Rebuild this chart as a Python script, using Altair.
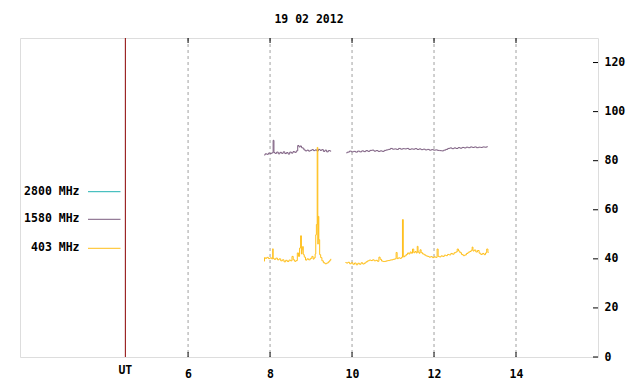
import altair as alt
import pandas as pd

# ---------------- data ----------------
series_names = ["2800 MHz", "1580 MHz", "403 MHz"]
series_colors = ["#20b2b2", "#7b5c7f", "#ffbf1a"]

x_ticks = [6, 8, 10, 12, 14]
y_ticks = [0, 20, 40, 60, 80, 100, 120]
ut_pos = [4.47]
title_text = "19 02 2012"

# 1580 MHz, first segment
t1580_a = [7.86, 7.90, 7.94, 7.98, 8.02, 8.06, 8.09, 8.10, 8.14, 8.18, 8.22, 8.26, 8.30, 8.34,
           8.38, 8.42, 8.46, 8.50, 8.54, 8.58, 8.62, 8.66, 8.69, 8.72, 8.75, 8.78, 8.81, 8.84,
           8.88, 8.92, 8.96, 9.00, 9.04, 9.08, 9.12, 9.16, 9.20, 9.24, 9.28, 9.32, 9.36, 9.40,
           9.44, 9.49]
v1580_a = [82.3, 82.8, 82.6, 83.1, 82.9, 83.2, 88.3, 83.3, 83.0, 83.5, 82.8, 83.4, 83.0, 83.6,
           82.9, 83.3, 82.7, 83.5, 83.1, 83.7, 83.4, 84.0, 86.2, 85.6, 86.0, 85.3, 85.1, 84.4,
           84.0, 84.3, 83.9, 84.2, 84.5, 84.1, 84.4, 84.0, 84.6, 84.2, 84.5, 83.8, 84.3, 83.6,
           84.1, 83.9]
# 1580 MHz, second segment
t1580_b = [9.86, 9.91, 9.96, 10.01, 10.06, 10.11, 10.16, 10.21, 10.26, 10.31, 10.36, 10.41,
           10.46, 10.51, 10.56, 10.61, 10.66, 10.71, 10.76, 10.81, 10.86, 10.91, 10.96, 11.01,
           11.06, 11.11, 11.16, 11.21, 11.26, 11.31, 11.36, 11.41, 11.46, 11.51, 11.56, 11.61,
           11.66, 11.71, 11.76, 11.81, 11.86, 11.91, 11.96, 12.01, 12.06, 12.11, 12.16, 12.21,
           12.26, 12.31, 12.36, 12.41, 12.46, 12.51, 12.56, 12.61, 12.66, 12.71, 12.76, 12.81,
           12.86, 12.91, 12.96, 13.01, 13.06, 13.11, 13.16, 13.21, 13.26, 13.31]
v1580_b = [83.2, 83.5, 83.9, 83.6, 83.8, 83.5, 83.9, 83.6, 84.0, 83.7, 84.1, 83.8,
           84.2, 84.3, 83.9, 84.1, 83.8, 84.0, 83.8, 84.2, 84.4, 84.6, 85.0, 84.7,
           84.8, 84.6, 85.0, 84.7, 84.9, 84.8, 85.0, 84.6, 84.8, 84.7, 84.9, 84.6,
           84.8, 84.5, 84.7, 84.4, 84.6, 84.3, 84.5, 84.3, 84.4, 84.2, 84.1, 84.0,
           84.3, 84.6, 85.0, 85.2, 84.9, 85.2, 85.0, 85.3, 85.1, 85.4, 85.2, 85.5,
           85.3, 85.6, 85.4, 85.6, 85.3, 85.5, 85.4, 85.6, 85.5, 85.7]

# 403 MHz, first segment
t403_a = [7.86, 7.87, 7.90, 7.94, 7.98, 8.02, 8.06, 8.07, 8.08, 8.12, 8.16, 8.20, 8.24, 8.28,
          8.32, 8.36, 8.40, 8.44, 8.48, 8.52, 8.55, 8.58, 8.62, 8.65, 8.68, 8.71, 8.73, 8.76,
          8.77, 8.79, 8.80, 8.82, 8.85, 8.88, 8.92, 8.96, 9.00, 9.04, 9.06, 9.09, 9.11, 9.12,
          9.14, 9.16, 9.17, 9.18, 9.20, 9.22, 9.25, 9.28, 9.32, 9.36, 9.40, 9.44, 9.47, 9.49]
v403_a = [39.0, 40.5, 40.2, 40.6, 40.1, 40.4, 40.0, 44.1, 40.2, 39.8, 40.3, 39.6, 40.0, 39.2,
          39.6, 38.8, 39.4, 38.9, 39.5, 39.2, 41.0, 39.6, 39.0, 39.3, 42.4, 41.0, 44.4, 49.4,
          42.0, 43.7, 45.0, 41.7, 40.7, 39.5, 40.0, 39.6, 40.2, 41.0, 39.9, 40.4, 42.0, 49.8,
          54.0, 85.4, 46.0, 57.3, 47.8, 41.7, 40.5, 39.2, 38.4, 38.0, 38.3, 38.8, 39.4, 39.9]
# 403 MHz, second segment
t403_b = [9.84, 9.88, 9.92, 9.96, 10.00, 10.04, 10.08, 10.12, 10.16, 10.20, 10.24, 10.28,
          10.32, 10.36, 10.40, 10.44, 10.48, 10.52, 10.56, 10.60, 10.64, 10.67, 10.70, 10.74,
          10.78, 10.82, 10.86, 10.90, 10.94, 10.98, 11.02, 11.06, 11.09, 11.11, 11.15, 11.19,
          11.22, 11.24, 11.26, 11.30, 11.34, 11.37, 11.40, 11.43, 11.46, 11.49, 11.52, 11.55,
          11.58, 11.60, 11.62, 11.65, 11.67, 11.70, 11.74, 11.78, 11.82, 11.86, 11.90, 11.94,
          11.98, 12.02, 12.06, 12.09, 12.11, 12.15, 12.19, 12.23, 12.27, 12.31, 12.35, 12.39,
          12.43, 12.47, 12.51, 12.55, 12.58, 12.61, 12.65, 12.69, 12.73, 12.77, 12.81, 12.85,
          12.89, 12.92, 12.94, 12.96, 13.00, 13.04, 13.08, 13.12, 13.16, 13.20, 13.24, 13.27,
          13.30, 13.33]
v403_b = [38.5, 38.3, 38.6, 38.0, 38.4, 37.8, 38.3, 37.6, 38.2, 37.8, 38.4, 37.9,
          38.3, 38.8, 39.2, 39.5, 39.3, 39.6, 39.2, 39.4, 39.0, 40.7, 39.8, 39.1,
          38.9, 39.0, 39.2, 39.3, 39.5, 39.6, 39.8, 40.0, 42.6, 40.1, 40.4, 40.2,
          40.6, 56.0, 40.8, 41.2, 41.8, 42.4, 42.0, 42.8, 42.3, 44.0, 42.5, 43.0,
          42.4, 45.1, 42.8, 42.3, 43.7, 42.5, 42.0, 41.6, 41.2, 41.0, 40.7, 40.9,
          40.5, 40.8, 40.6, 44.0, 41.0, 40.8, 41.2, 41.0, 41.5, 41.3, 41.8, 41.6,
          42.2, 41.9, 42.5, 42.8, 44.0, 43.2, 42.5, 41.8, 41.3, 41.6, 42.2, 42.7,
          43.0, 43.5, 44.8, 43.2, 43.6, 42.8, 43.4, 42.3, 41.8, 42.2, 41.7, 42.4,
          44.0, 42.6]


def make_df(name, segments):
    rows = []
    for si, (ts, vs) in enumerate(segments):
        for t, v in zip(ts, vs):
            rows.append({"t": t, "v": v, "series": name, "seg": f"{name}-{si}"})
    return pd.DataFrame(rows)


df1580 = make_df("1580 MHz", [(t1580_a, v1580_a), (t1580_b, v1580_b)])
df403 = make_df("403 MHz", [(t403_a, v403_a), (t403_b, v403_b)])

# ---------------- chart ----------------
W, H = 578, 319
FONT = "DejaVu Sans Mono"
FS = 11.5

xs = alt.Scale(domain=[1.9, 16.0], nice=False, zero=False)
ys = alt.Scale(domain=[0, 130], nice=False, zero=False)

X_AXIS = alt.Axis(values=x_ticks, format="d", ticks=False, domain=False, grid=False,
                  labelPadding=11, title=None, labelFont=FONT, labelFontSize=FS,
                  labelFontWeight="bold", labelColor="black")
Y_AXIS = alt.Axis(orient="right", values=y_ticks, format="d", ticks=False, domain=False,
                  grid=False, labelPadding=6, title=None, labelFont=FONT,
                  labelFontSize=FS, labelFontWeight="bold", labelColor="black",
                  labelAlign="left")


def X(field="t:Q"):
    return alt.X(field, scale=xs, axis=X_AXIS)


def Y(field="v:Q"):
    return alt.Y(field, scale=ys, axis=Y_AXIS)


grid = alt.Chart(pd.DataFrame({"t": x_ticks})).mark_rule(
    color="#a0a0a0", strokeWidth=1, strokeDash=[3, 3]
).encode(x=X())

# y axis carrier (invisible points)
yaxis = alt.Chart(pd.DataFrame({"t": [10.0] * len(y_ticks), "v": y_ticks})).mark_point(
    opacity=0).encode(x=X(), y=Y())

xt_df = pd.DataFrame({"t": x_ticks})
xtick_bottom = alt.Chart(xt_df).mark_rule(color="black").encode(
    x=X(), y=alt.value(H), y2=alt.value(H - 5))
xtick_top = alt.Chart(xt_df).mark_rule(color="black").encode(
    x=X(), y=alt.value(0), y2=alt.value(5))
ytick = alt.Chart(pd.DataFrame({"v": y_ticks})).mark_rule(color="black").encode(
    y=Y(), x=alt.value(W - 5), x2=alt.value(W))

ut_df = pd.DataFrame({"t": ut_pos, "label": ["UT"]})
ut_line = alt.Chart(ut_df).mark_rule(color="#8b0000", strokeWidth=1).encode(x=X())
ut_text = alt.Chart(ut_df).mark_text(
    font=FONT, fontSize=FS, fontWeight="bold", color="black", baseline="top", align="center"
).encode(x=X(), y=alt.value(H + 8), text="label:N")


def line_layer(df, color):
    return alt.Chart(df).mark_line(color=color, strokeWidth=1, interpolate="step").encode(
        x=X(), y=Y(), detail="seg:N", order="t:Q")


l1580 = line_layer(df1580, series_colors[1])
l403 = line_layer(df403, series_colors[2])

legend_layers = []
legend_y = [153.7, 181.3, 210.3]
for name, col, yy in zip(series_names, series_colors, legend_y):
    ldf = pd.DataFrame({"label": [name]})
    legend_layers.append(
        alt.Chart(ldf).mark_rule(color=col, strokeWidth=1).encode(
            x=alt.value(68), x2=alt.value(100.5), y=alt.value(yy)))
    legend_layers.append(
        alt.Chart(ldf).mark_text(font=FONT, fontSize=FS, fontWeight="bold", color="black",
                                 align="right", baseline="middle").encode(
            x=alt.value(59.5), y=alt.value(yy), text="label:N"))

chart = alt.layer(
    grid, yaxis, xtick_bottom, xtick_top, ytick, ut_line, ut_text, l1580, l403, *legend_layers
).properties(
    width=W, height=H,
    title=alt.TitleParams(title_text, font=FONT, fontSize=FS, fontWeight="bold",
                          color="black", anchor="middle", offset=12),
    autosize=alt.AutoSizeParams(type="none"),
    padding={"left": 12, "top": 30, "right": 34, "bottom": 26},
).configure_view(
    stroke="black", strokeWidth=1
).configure(background="white")

chart.save("out.html", embed_options={"renderer": "svg", "actions": False})
